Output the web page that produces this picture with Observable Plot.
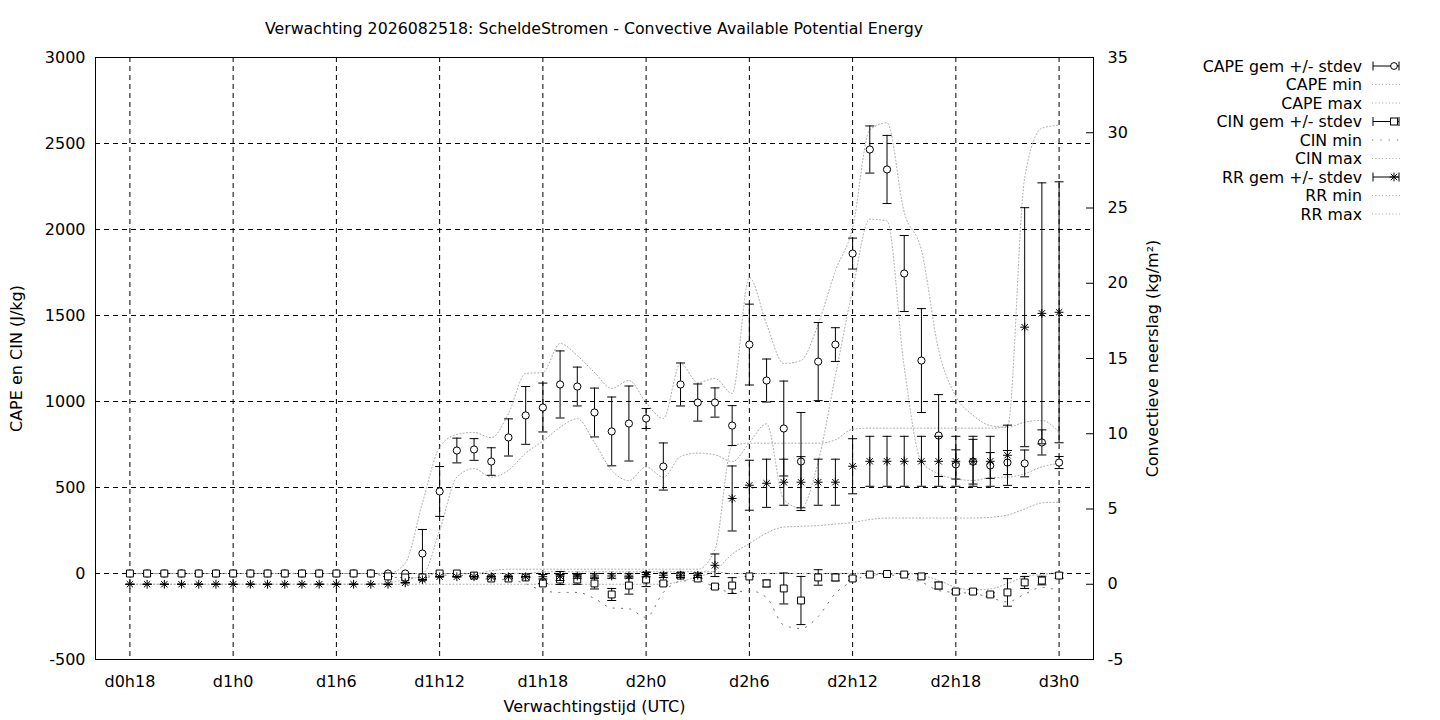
<!DOCTYPE html>
<html>
<head>
<meta charset="utf-8">
<script src="https://cdn.jsdelivr.net/npm/d3@7"></script>
<script src="https://cdn.jsdelivr.net/npm/@observablehq/plot@0.6"></script>
<style>
  html, body { margin: 0; padding: 0; background: #fff; }
  #wrap { position: relative; width: 1440px; height: 720px; font-family: "DejaVu Sans", sans-serif; color: #000; }
  #title { height: 40px; width: 1188px; text-align: center; font-size: 15.8px; line-height: 18px; padding-top: 20px; box-sizing: border-box; }
  #legend { position: absolute; left: 1180px; top: 50px; }
</style>
</head>
<body>
<div id="wrap">
  <div id="title">Verwachting 2026082518: ScheldeStromen - Convective Available Potential Energy</div>
  <div id="chart"></div>
  <svg id="legend" width="240" height="180"></svg>
</div>
<script>
// ---------- data (hourly, forecast hours 18 .. 72) ----------
const hours = [18,19,20,21,22,23,24,25,26,27,28,29,30,31,32,33,34,35,36,37,38,39,40,41,42,43,44,45,
  46,47,48,49,50,51,52,53,54,55,56,57,58,59,60,61,62,63,64,65,66,67,68,69,70,71,72];

const xTickValues = [18, 24, 30, 36, 42, 48, 54, 60, 66, 72];
const xTickLabels = ["d0h18","d1h0","d1h6","d1h12","d1h18","d2h0","d2h6","d2h12","d2h18","d3h0"];
const yTicks = [-500, 0, 500, 1000, 1500, 2000, 2500, 3000];
const y2Ticks = [-5, 0, 5, 10, 15, 20, 25, 30, 35];

const capeMean = [0,0,0,0,0,0,0,0,0,0,0,0,0,0,0,0,0,
  116,477,715,721,651,791,919,965,1099,1087,936,826,872,901,622,1099,994,994,860,1331,1122,843,651,
  1232,1331,1860,2465,2349,1744,1238,802,634,650,628,645,640,762,645];
const capeSd = [0,0,0,0,0,0,0,0,0,0,0,0,0,0,0,0,0,
  140,145,72,63,80,108,168,142,195,113,142,200,218,58,137,125,108,85,116,235,125,276,285,
  227,98,90,137,198,221,302,238,85,130,75,70,78,73,35];
const capeMin = [0,0,0,0,0,0,0,0,0,0,0,0,0,0,0,0,0,0,
  250,560,610,560,600,700,770,850,900,760,600,540,620,560,680,700,690,650,760,870,430,380,
  650,1150,1650,2060,2050,1200,650,580,550,541,558,560,580,620,640];
const capeMax = [0,0,0,0,0,0,0,0,0,0,0,0,0,0,0,0,
  60,410,735,808,820,790,930,1163,1169,1337,1267,1169,1076,1122,994,901,1221,1110,1134,1047,1720,1450,1221,1238,
  1450,1760,2010,2580,2620,2100,1880,1300,1030,920,860,850,880,890,820];

const cinMean = [0,0,0,0,0,0,0,0,0,0,0,0,0,0,0,
  -17,-23,-23,0,0,-12,-29,-29,-23,-58,-35,-35,-58,-122,-70,-35,-58,-12,-29,-76,-70,-17,-58,-87,-157,
  -23,-23,-29,-6,-3,-6,-17,-70,-105,-105,-122,-110,-52,-41,-12];
const cinSd = [0,0,0,0,0,0,0,0,0,0,0,0,0,0,0,
  0,0,0,0,0,0,0,0,0,0,29,28,32,35,50,41,10,0,0,10,46,0,20,90,140,
  45,20,10,5,0,0,10,20,10,10,10,80,35,25,15];
const cinMin = [0,0,0,0,0,0,0,0,0,0,0,0,0,0,0,
  -20,-25,-25,-10,-10,-20,-35,-35,-60,-99,-110,-110,-145,-200,-205,-256,-110,-45,-40,-80,-110,-100,-140,-300,-320,
  -250,-116,-45,-10,-5,-30,-50,-99,-110,-116,-140,-165,-120,-81,-100];
const cinMax = [0,0,0,0,0,0,0,0,0,0,0,0,0,0,0,
  0,0,0,0,0,0,0,0,0,10,10,10,10,10,10,10,10,10,10,10,0,0,0,0,0,
  0,0,0,0,0,0,-10,-40,-80,-95,-90,-58,-20,-5,0];

const rrMean = [0,0,0,0,0,0,0,0,0,0,0,0,0,0,0,0,
  0.1,0.3,0.5,0.5,0.5,0.5,0.5,0.5,0.5,0.55,0.55,0.55,0.55,0.55,0.65,0.6,0.6,0.6,1.26,5.7,6.58,6.71,6.78,6.78,
  6.78,6.78,7.84,8.17,8.17,8.17,8.17,8.17,8.17,8.17,8.17,8.57,17.08,18.0,18.07];
const rrSd = [0,0,0,0,0,0,0,0,0,0,0,0,0,0,0,0,
  0,0,0,0,0,0,0,0,0.15,0.3,0.15,0.15,0.15,0.15,0.15,0.15,0.15,0.15,0.75,2.16,1.66,1.6,1.53,1.7,
  1.53,1.53,1.83,1.66,1.66,1.66,1.66,1.66,1.66,1.66,1.66,2.0,7.94,8.67,8.67];
const rrMin = [0,0,0,0,0,0,0,0,0,0,0,0,0,0,0,0,0,0,0,0,0,0,0,0,0,0,0,0,0,0,0,0,
  0.2,0.5,0.9,2.0,2.7,3.4,3.8,3.85,3.9,4.0,4.1,4.3,4.4,4.4,4.4,4.4,4.4,4.4,4.45,4.6,5.0,5.4,5.45];
const rrMax = [0,0,0,0,0,0,0,0,0,0,0,0,0,0,0,
  0.1,0.3,0.5,0.7,0.7,0.7,0.9,1.0,1.0,1.0,1.0,1.0,1.0,1.0,1.0,1.0,1.0,1.0,1.0,2.3,9.2,9.37,9.37,9.37,9.37,
  9.37,9.6,10.3,10.37,10.37,10.37,10.37,10.37,10.37,10.37,10.37,10.5,27.0,30.3,30.5];

// ---------- build table ----------
const rows = hours.map((h, i) => ({
  h,
  cm: capeMean[i], cs: capeSd[i], cmin: capeMin[i], cmax: capeMax[i],
  nm: cinMean[i], ns: cinSd[i], nmin: cinMin[i], nmax: cinMax[i],
  rm: rrMean[i], rs: rrSd[i], rmin: rrMin[i], rmax: rrMax[i]
}));

// second (right) axis: RR [-5, 35] shares the pixel range of the left axis [-500, 3000]
const yDom = [-500, 3000], y2Dom = [-5, 35];
const toY = r => yDom[0] + (r - y2Dom[0]) * (yDom[1] - yDom[0]) / (y2Dom[1] - y2Dom[0]);
const fromY = v => y2Dom[0] + (v - yDom[0]) * (y2Dom[1] - y2Dom[0]) / (yDom[1] - yDom[0]);

// ---------- custom symbols ----------
const capSym = { draw(ctx, size) { const r = Math.sqrt(size / Math.PI); ctx.moveTo(-r, 0); ctx.lineTo(r, 0); } };
const starSym = { draw(ctx, size) {
  const r = Math.sqrt(size / Math.PI), d = r * 0.72;
  ctx.moveTo(-r, 0); ctx.lineTo(r, 0); ctx.moveTo(0, -r); ctx.lineTo(0, r);
  ctx.moveTo(-d, -d); ctx.lineTo(d, d); ctx.moveTo(-d, d); ctx.lineTo(d, -d);
} };

const GREY = "#a4a4a4", DOTS = "1,2.4";
const CINMIN = "#707070", CINDOTS = "1.3,7";
const CAPR = 4.5;

function dotted(y, stroke = GREY, dash = DOTS) {
  return Plot.line(rows, { x: "h", y, stroke, strokeWidth: 1, strokeDasharray: dash, curve: "monotone-x" });
}
function errorbars(mean, sd, symbol, r, fy = v => v) {
  return [
    Plot.ruleX(rows, { x: "h", y1: d => fy(d[mean] - d[sd]), y2: d => fy(d[mean] + d[sd]), stroke: "black", strokeWidth: 1 }),
    Plot.dot(rows, { x: "h", y: d => fy(d[mean] - d[sd]), symbol: capSym, r: CAPR, stroke: "black", fill: "none", strokeWidth: 1 }),
    Plot.dot(rows, { x: "h", y: d => fy(d[mean] + d[sd]), symbol: capSym, r: CAPR, stroke: "black", fill: "none", strokeWidth: 1 }),
    Plot.dot(rows, { x: "h", y: d => fy(d[mean]), symbol, r, stroke: "black",
      fill: symbol === starSym ? "none" : "white", strokeWidth: 1 })
  ];
}

const chart = Plot.plot({
  width: 1440,
  height: 680,
  marginLeft: 95,
  marginRight: 347,
  marginTop: 17,
  marginBottom: 61,
  style: { fontFamily: "DejaVu Sans, sans-serif", fontSize: "16px", color: "black", background: "white", overflow: "visible" },
  x: { domain: [16, 74] },
  y: { domain: yDom },
  marks: [
    Plot.gridX({ ticks: xTickValues, stroke: "black", strokeOpacity: 1, strokeDasharray: "5,4" }),
    Plot.gridY({ ticks: yTicks, stroke: "black", strokeOpacity: 1, strokeDasharray: "5,4" }),
    Plot.frame({ stroke: "black", strokeWidth: 1 }),
    // min / max curves
    dotted("cmin"), dotted("cmax"),
    dotted("nmin", CINMIN, CINDOTS), dotted("nmax"),
    dotted(d => toY(d.rmin)), dotted(d => toY(d.rmax)),
    // means with stdev bars
    ...errorbars("cm", "cs", "circle", 3.6),
    ...errorbars("nm", "ns", "square", 3.9),
    ...errorbars("rm", "rs", starSym, 4.4, toY),
    // axes
    Plot.axisX({ ticks: xTickValues, tickFormat: d => xTickLabels[xTickValues.indexOf(d)], tickSize: 0, tickPadding: 16,
      label: "Verwachtingstijd (UTC)", labelAnchor: "center", labelArrow: "none", labelOffset: 52 }),
    Plot.axisY({ ticks: yTicks, tickFormat: d => String(d), tickSize: 0, tickPadding: 10, anchor: "left",
      label: "CAPE en CIN (J/kg)", labelAnchor: "center", labelArrow: "none", labelOffset: 85 }),
    Plot.axisY({ ticks: y2Ticks.map(toY), anchor: "right", tickSize: 8, dx: -8, text: null, label: null }),
    Plot.axisY({ ticks: y2Ticks.map(toY), anchor: "right", tickSize: 0, tickPadding: 14,
      tickFormat: v => String(Math.round(fromY(v))),
      label: "Convectieve neerslag (kg/m²)", labelAnchor: "center", labelArrow: "none", labelOffset: 64 })
  ]
});
document.getElementById("chart").appendChild(chart);

// ---------- legend ----------
const legendItems = [
  { name: "CAPE gem +/- stdev", kind: "bar", sym: "circle" },
  { name: "CAPE min", kind: "line" },
  { name: "CAPE max", kind: "line" },
  { name: "CIN gem +/- stdev", kind: "bar", sym: "square" },
  { name: "CIN min", kind: "cinmin" },
  { name: "CIN max", kind: "line" },
  { name: "RR gem +/- stdev", kind: "bar", sym: "star" },
  { name: "RR min", kind: "line" },
  { name: "RR max", kind: "line" }
];
const lg = d3.select("#legend");
legendItems.forEach((it, i) => {
  const y = 16 + i * 18.5;
  lg.append("text").attr("x", 182).attr("y", y).attr("dy", "0.35em").attr("text-anchor", "end")
    .style("font-family", "DejaVu Sans, sans-serif").style("font-size", "15.8px").text(it.name);
  if (it.kind === "bar") {
    lg.append("line").attr("x1", 193).attr("x2", 219).attr("y1", y).attr("y2", y).attr("stroke", "black");
    lg.append("line").attr("x1", 193).attr("x2", 193).attr("y1", y - 4.5).attr("y2", y + 4.5).attr("stroke", "black");
    lg.append("line").attr("x1", 219).attr("x2", 219).attr("y1", y - 4.5).attr("y2", y + 4.5).attr("stroke", "black");
    if (it.sym === "circle") lg.append("circle").attr("cx", 214).attr("cy", y).attr("r", 3.4).attr("fill", "white").attr("stroke", "black");
    if (it.sym === "square") lg.append("rect").attr("x", 210.5).attr("y", y - 3.5).attr("width", 7).attr("height", 7).attr("fill", "white").attr("stroke", "black");
    if (it.sym === "star") {
      const p = d3.path(); starSym.draw(p, Math.PI * 4.4 * 4.4);
      lg.append("path").attr("transform", `translate(214,${y})`).attr("d", p.toString()).attr("stroke", "black").attr("fill", "none");
    }
  } else {
    lg.append("line").attr("x1", 192).attr("x2", 220).attr("y1", y).attr("y2", y)
      .attr("stroke", it.kind === "cinmin" ? CINMIN : GREY)
      .attr("stroke-dasharray", it.kind === "cinmin" ? CINDOTS : DOTS);
  }
});
</script>
</body>
</html>
